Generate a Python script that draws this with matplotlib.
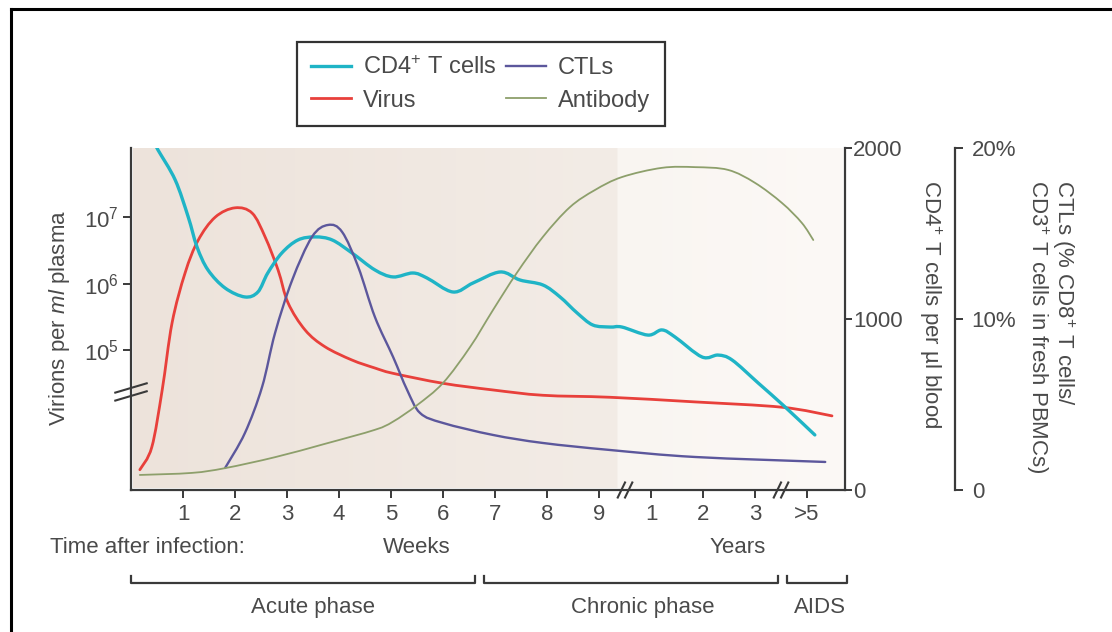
import numpy as np
import matplotlib
matplotlib.use("Agg")
import matplotlib.pyplot as plt
from matplotlib.lines import Line2D
from matplotlib.path import Path
from matplotlib.patches import PathPatch

plt.rcParams['font.family'] = ['Liberation Sans', 'DejaVu Sans']
plt.rcParams['mathtext.fontset'] = 'custom'
plt.rcParams['mathtext.rm'] = 'Liberation Sans'
plt.rcParams['mathtext.it'] = 'Liberation Sans:italic'
plt.rcParams['mathtext.default'] = 'rm'

TXT = '#4a4a4a'
SPINE = '#3a3a3a'
FS = 16

# time axis: weeks 0-9, then years 1-3 at 10-12, ">5" years at 13
tick_pos = [1, 2, 3, 4, 5, 6, 7, 8, 9, 10, 11, 12, 13]
tick_lab = ['1', '2', '3', '4', '5', '6', '7', '8', '9', '1', '2', '3', '>5']
breaks_x = [9.5, 12.5]

# CD4+ T cells per ul blood
cd4_t = [0.45, 0.52, 0.85, 1.10, 1.27, 1.48, 1.81, 2.19, 2.44, 2.63, 2.90, 3.21, 3.54, 3.87,
         4.25, 4.69, 5.04, 5.42, 5.69, 6.19, 6.58, 7.10, 7.48, 7.92, 8.25, 8.58, 8.88, 9.21,
         9.44, 9.94, 10.21, 10.46, 10.98, 11.29, 11.56, 12.06, 12.58, 13.15]
cd4_v = [2030, 1988, 1813, 1597, 1421, 1287, 1181, 1129, 1158, 1269, 1386, 1462, 1480, 1462,
         1386, 1287, 1246, 1269, 1240, 1158, 1211, 1275, 1228, 1199, 1129, 1035, 965, 953,
         953, 906, 936, 895, 778, 789, 760, 626, 485, 322]

# virus, log10 virions per ml plasma
vir_t = [0.17, 0.40, 0.60, 0.79, 1.04, 1.29, 1.62, 2.00, 2.33, 2.58, 2.83, 3.02, 3.35, 3.73,
         4.25, 4.69, 5.04, 6.00, 6.96, 7.92, 9.21, 10.85, 12.52, 13.48]
vir_v = [3.20, 3.54, 4.40, 5.41, 6.16, 6.65, 7.00, 7.14, 7.06, 6.70, 6.20, 5.71, 5.30, 5.05,
         4.85, 4.73, 4.65, 4.50, 4.40, 4.32, 4.29, 4.22, 4.14, 4.01]

# CTLs, % CD8+ of CD3+ T cells
ctl_t = [1.81, 2.19, 2.52, 2.77, 3.10, 3.48, 3.79, 4.06, 4.37, 4.69, 5.04, 5.31, 5.56, 6.00,
         6.96, 7.92, 9.21, 10.85, 13.35]
ctl_v = [1.29, 3.33, 6.02, 9.18, 12.28, 14.80, 15.50, 15.09, 13.04, 10.12, 7.78, 5.85, 4.50,
         3.92, 3.22, 2.75, 2.34, 1.93, 1.64]

# antibody, relative level (no scale)
ab_t = [0.17, 1.17, 1.81, 2.77, 3.73, 4.69, 5.04, 5.50, 6.00, 6.52, 6.96, 7.42, 7.92, 8.44,
        8.92, 9.44, 10.21, 10.85, 11.48, 12.00, 12.52, 12.90, 13.12]
ab_v = [4.4, 5.0, 6.4, 9.6, 13.5, 17.6, 20.0, 24.8, 31.3, 41.8, 52.6, 63.5, 74.0, 82.7,
        87.7, 91.5, 94.2, 94.4, 93.6, 89.8, 83.9, 78.1, 73.1]

phases = ['Acute phase', 'Chronic phase', 'AIDS']
phase_span = [(0, 6.62), (6.79, 12.44), (12.62, 13.77)]
phase_lab_x = [3.5, 9.85, 13.25]


def smooth_curve(axis, xs, ys, **kw):
    # draw the read points as one smooth bezier path (catmull-rom control points)
    p = np.column_stack([xs, ys]).astype(float)
    p = np.vstack([p[0], p, p[-1]])
    verts = [p[1]]
    codes = [Path.MOVETO]
    for i in range(1, len(p) - 2):
        c1 = p[i] + (p[i + 1] - p[i - 1]) / 6
        c2 = p[i + 1] - (p[i + 2] - p[i]) / 6
        verts += [c1, c2, p[i + 1]]
        codes += [Path.CURVE4] * 3
    patch = PathPatch(Path(verts, codes), fill=False, capstyle='round', **kw)
    axis.add_patch(patch)
    return Line2D([], [], color=kw.get('edgecolor'), lw=kw.get('lw'))


fig = plt.figure(figsize=(11.12, 6.32), dpi=100)
fig.patch.set_facecolor('white')
# outer frame (left + top visible)
fig.add_artist(Line2D([0.0095, 0.0095], [0, 0.986], color='black', lw=2.2))
fig.add_artist(Line2D([0.0095, 1.0], [0.986, 0.986], color='black', lw=2.2))

ax = fig.add_axes([131 / 1112, 1 - 490 / 632, 714 / 1112, 342 / 632])
ax.set_xlim(0, 13.73)
ax.set_ylim(2.895, 8.04)
ax.patch.set_visible(False)

# shaded background
c_left = np.array([237, 227, 219]) / 255
c_mid = np.array([243, 236, 230]) / 255
c_right1 = np.array([249, 245, 241]) / 255
c_right2 = np.array([252, 249, 246]) / 255
n = 400
xs = np.linspace(0, 1, n)
split = (618 - 131) / 714
grad = np.zeros((2, n, 3))
for i, f in enumerate(xs):
    if f < split:
        c = c_left + (c_mid - c_left) * f / split
    else:
        c = c_right1 + (c_right2 - c_right1) * (f - split) / (1 - split)
    grad[:, i, :] = c
ax.imshow(grad, extent=[0.003, 0.997, 0.006, 1.0], transform=ax.transAxes,
          aspect='auto', zorder=0, interpolation='bilinear')

for s in ['top', 'right']:
    ax.spines[s].set_visible(False)
for s in ['left', 'bottom']:
    ax.spines[s].set_color(SPINE)
    ax.spines[s].set_linewidth(1.6)

ax.set_xticks(tick_pos)
ax.set_xticklabels(tick_lab)
ax.set_yticks([5, 6, 7])
ax.set_yticklabels([r'$10^{5}$', r'$10^{6}$', r'$10^{7}$'])
ax.tick_params(axis='both', colors=SPINE, labelcolor=TXT, labelsize=FS, length=6, width=1.4)
ax.tick_params(axis='x', pad=4)
ax.tick_params(axis='y', pad=3)

# axis break marks
bx = ax.get_xaxis_transform()
for xb in breaks_x:
    for d in (-0.07, 0.07):
        ax.plot([xb + d - 0.07, xb + d + 0.07], [-0.022, 0.022], transform=bx,
                color=SPINE, lw=1.5, clip_on=False, zorder=5)
by = ax.get_yaxis_transform()
yb = 4.37
for d in (-0.06, 0.06):
    ax.plot([-0.022, 0.022], [yb + d - 0.07, yb + d + 0.07], transform=by,
            color=SPINE, lw=1.5, clip_on=False, zorder=5)

fig.text(60 / 1112, 1 - 318 / 632, r'Virions per $\it{ml}$ plasma', rotation=90,
         ha='center', va='center', fontsize=FS, color=TXT)

# right axes
ax2 = ax.twinx()
ax2.set_ylim(0, 2000)
ax2.set_yticks([0, 1000, 2000])
for s in ['top', 'left', 'bottom']:
    ax2.spines[s].set_visible(False)
ax2.spines['right'].set_color(SPINE)
ax2.spines['right'].set_linewidth(1.6)
ax2.tick_params(axis='y', colors=SPINE, labelcolor=TXT, labelsize=FS, length=5, width=1.4, pad=1)
fig.text(930 / 1112, 1 - 180 / 632, r'CD4$^{+}$ T cells per µl blood', rotation=-90,
         ha='center', va='top', fontsize=FS, color=TXT)

ax3 = ax.twinx()
ax3.set_ylim(0, 20)
ax3.set_yticks([0, 10, 20])
ax3.set_yticklabels(['0', '10%', '20%'])
for s in ['top', 'left', 'bottom']:
    ax3.spines[s].set_visible(False)
ax3.spines['right'].set_position(('axes', (955 - 131) / 714))
ax3.spines['right'].set_color(SPINE)
ax3.spines['right'].set_linewidth(1.6)
ax3.tick_params(axis='y', colors=SPINE, labelcolor=TXT, labelsize=FS, length=6, width=1.4, pad=6)
fig.text(1050 / 1112, 1 - 180 / 632,
         'CTLs (% CD8$^{+}$ T cells/\nCD3$^{+}$ T cells in fresh PBMCs)', rotation=-90,
         ha='center', va='top', multialignment='left', fontsize=FS, color=TXT,
         linespacing=1.0)

ax4 = ax.twinx()
ax4.set_ylim(0, 100)
ax4.axis('off')

for a in (ax2, ax3, ax4):
    a.set_xlim(0, 13.73)

h_ab = smooth_curve(ax4, ab_t, ab_v, edgecolor='#8d9f6b', lw=1.3, zorder=2)
h_ctl = smooth_curve(ax3, ctl_t, ctl_v, edgecolor='#5c579c', lw=1.7, zorder=3)
h_vir = smooth_curve(ax, vir_t, vir_v, edgecolor='#e8403b', lw=2.0, zorder=4)
h_cd4 = smooth_curve(ax2, cd4_t, cd4_v, edgecolor='#1fb4c6', lw=2.4, zorder=5)

# time labels
ax.text(-0.113, -0.167, 'Time after infection:', transform=ax.transAxes, ha='left',
        va='center', fontsize=FS, color=TXT)
ax.text(5.5, -0.167, 'Weeks', transform=bx, ha='center', va='center', fontsize=FS, color=TXT)
ax.text(11.67, -0.167, 'Years', transform=bx, ha='center', va='center', fontsize=FS, color=TXT)

# phase brackets
for name, (a, b), lx in zip(phases, phase_span, phase_lab_x):
    ax.plot([a, a, b, b], [-0.251, -0.272, -0.272, -0.251], transform=bx, color=SPINE,
            lw=1.6, clip_on=False)
    ax.text(lx, -0.345, name, transform=bx, ha='center', va='center', fontsize=FS, color=TXT)

leg = fig.legend([h_cd4, h_vir, h_ctl, h_ab],
                 [r'CD4$^{+}$ T cells', 'Virus', 'CTLs', 'Antibody'],
                 ncol=2, loc='upper left', bbox_to_anchor=(297 / 1112, 1 - 42 / 632),
                 borderaxespad=0, frameon=True, fancybox=False, edgecolor='black',
                 fontsize=17, handlelength=1.7, handletextpad=0.5, columnspacing=0.4,
                 labelspacing=0.45, borderpad=0.6)
leg.get_frame().set_linewidth(1.6)
for t in leg.get_texts():
    t.set_color(TXT)

fig.savefig('out.png', dpi=100)
